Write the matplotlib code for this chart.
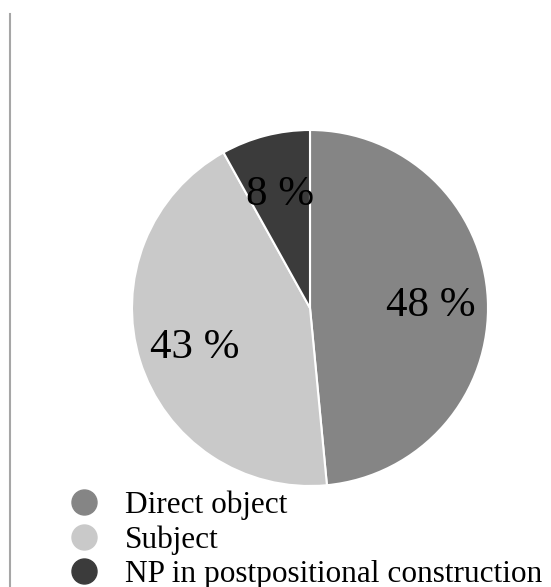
import matplotlib
matplotlib.use("Agg")
import matplotlib.pyplot as plt
from matplotlib.lines import Line2D

plt.rcParams['font.family'] = ['Liberation Serif', 'DejaVu Serif']

# data
labels = ['Direct object', 'Subject', 'NP in postpositional construction']
values = [48, 43, 8]
colors = ['#858585', '#c9c9c9', '#3b3b3b']

fig = plt.figure(figsize=(5.51, 5.87), dpi=100)
ax = fig.add_axes([132 / 551, 101 / 587, 356 / 551, 356 / 587])

wedges, texts, autotexts = ax.pie(
    values, colors=colors, startangle=90, counterclock=False,
    autopct=lambda p: f'{p:.0f} %', pctdistance=0.68,
    wedgeprops=dict(edgecolor='white', linewidth=1.5),
    textprops=dict(fontsize=31, color='black'))
for t in autotexts:
    x, y = t.get_position()
    t.set_position((x, y - 0.02))
ax.set_xlim(-1, 1)
ax.set_ylim(-1, 1)
ax.set_aspect('equal')

# left border line
fig.add_artist(Line2D([9.5 / 551, 9.5 / 551], [0, 1 - 14 / 587],
                      transform=fig.transFigure, color='#a6a6a6', lw=1.5))

handles = [Line2D([], [], marker='o', linestyle='', markersize=18,
                  markerfacecolor=c, markeredgecolor=c) for c in colors]
fig.legend(handles, labels, loc='upper left', bbox_to_anchor=(68 / 551, 1 - 490 / 587),
           frameon=False, fontsize=22.5, handlelength=1.0, handletextpad=0.83,
           labelspacing=0.18, borderaxespad=0, borderpad=0)

fig.savefig('out.png', dpi=100)
